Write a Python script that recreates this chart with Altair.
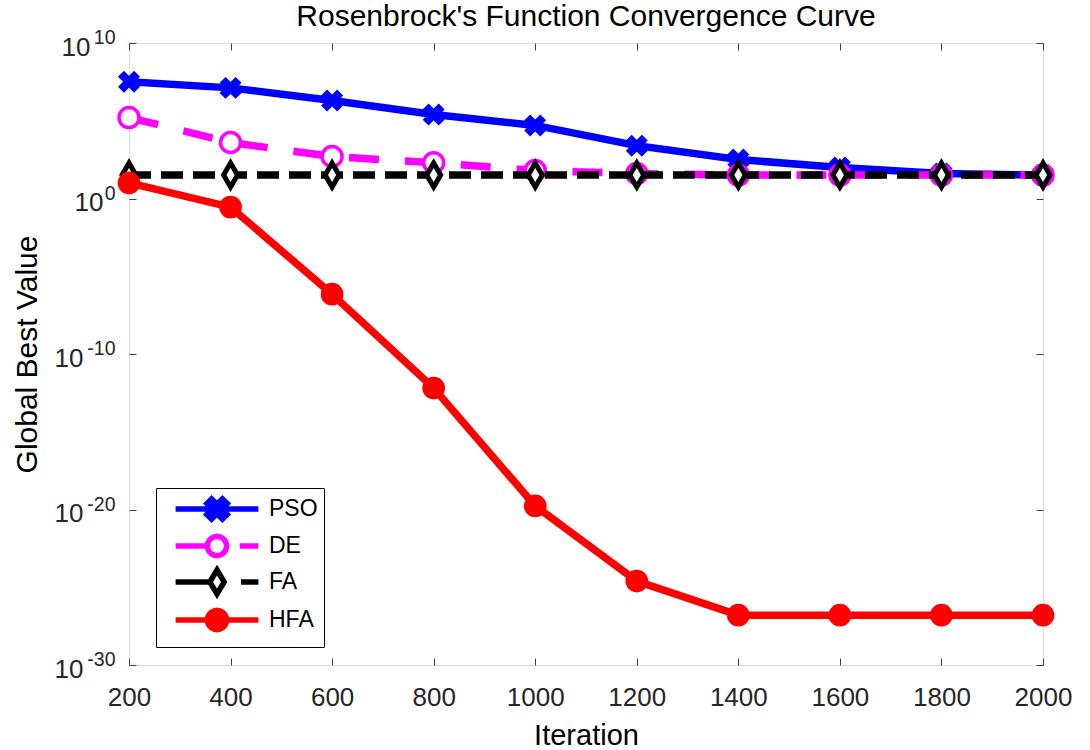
import math
import altair as alt
import pandas as pd

iterations = [200, 400, 600, 800, 1000, 1200, 1400, 1600, 1800, 2000]
series_names = ["PSO", "DE", "FA", "HFA"]
pso = [3.2e7, 1.3e7, 2.0e6, 2.5e5, 5.0e4, 2.5e3, 320, 100, 40, 32]
de = [1.6e5, 4.0e3, 500, 200, 63, 40, 32, 32, 32, 32]
fa = [32, 32, 32, 32, 32, 32, 32, 32, 32, 32]
hfa = [10, 0.28, 7e-7, 6.5e-13, 1.7e-20, 2.5e-25, 1.6e-27, 1.6e-27, 1.6e-27, 1.6e-27]
y_ticks = [1e-30, 1e-20, 1e-10, 1, 1e10]

colors = ["#0000ff", "#ff00ff", "#000000", "#ff0000"]
fills = ["#0000ff", "#ffffff", "#ffffff", "#ff0000"]
dashes = [None, [30, 26], [22, 10], None]

X_PATH = "M-1,-0.55L-0.55,-1L0,-0.45L0.55,-1L1,-0.55L0.45,0L1,0.55L0.55,1L0,0.45L-0.55,1L-1,0.55L-0.45,0Z"
DIAMOND = "M0,-1L0.58,0L0,1L-0.58,0Z"
shapes = [X_PATH, "circle", DIAMOND, "circle"]
sizes = [340, 400, 576, 430]
marker_sw = [2.5, 3.5, 5, 2]


def ring(r):
    pts = []
    for k in range(20):
        a = 2 * math.pi * k / 20
        pts.append(f"{r * math.cos(a):.3f},{r * math.sin(a):.3f}")
    return "M" + "L".join(pts) + "Z"


legend_paths = [
    "M-3.45,0L3.45,0M-0.85,-0.45L-0.45,-0.85L0,-0.4L0.45,-0.85L0.85,-0.45L0.4,0L0.85,0.45L0.45,0.85L0,0.4L-0.45,0.85L-0.85,0.45L-0.4,0Z",
    "M-3.45,0L-0.8,0M1.9,0L3.45,0" + ring(0.8),
    "M-3.45,0L-0.6,0M2.0,0L3.45,0M0,-1L0.6,0L0,1L-0.6,0Z",
    "M-3.45,0L3.45,0" + ring(0.8),
]

rows = []
for name, vals in zip(series_names, [pso, de, fa, hfa]):
    for it, v in zip(iterations, vals):
        rows.append({"iter": it, "value": v, "series": name})
df = pd.DataFrame(rows)

FONT = "Liberation Sans"
xscale = alt.Scale(domain=[200, 2000], nice=False, zero=False)
yscale = alt.Scale(type="log", domain=[1e-30, 1e10], nice=False)

# exponent part of the y labels (superscript)
exp_expr = ("datum.value >= 1e9 ? '10' : datum.value >= 0.5 ? '0' : "
            "datum.value >= 1e-11 ? '-10' : datum.value >= 1e-21 ? '-20' : '-30'")

xaxis = alt.Axis(values=iterations, title="Iteration", offset=-7, tickSize=7, domain=False,
                 grid=False, labelFontSize=26, titleFontSize=29, labelPadding=19, titlePadding=11,
                 labelFont=FONT, titleFont=FONT, titleFontWeight="normal", labelColor="#262626",
                 titleColor="#000000", tickColor="#404040", labelFlush=False, format="d")
yaxis = alt.Axis(values=y_ticks, title="Global Best Value", offset=-7, tickSize=7, domain=False,
                 grid=False, labelFontSize=19.5, titleFontSize=30, labelPadding=14, titlePadding=44,
                 labelFont=FONT, titleFont=FONT, titleFontWeight="normal", labelColor="#262626",
                 titleColor="#000000", tickColor="#404040", labelExpr=exp_expr, labelFlush=False,
                 labelAlign="right", labelBaseline="middle", labelOffset=-5.5)

base = alt.Chart(df)
layers = []
for i, name in enumerate(series_names):
    sub = base.transform_filter(alt.datum.series == name)
    line_kwargs = dict(color=colors[i], strokeWidth=7.5, clip=False)
    if dashes[i] is not None:
        line_kwargs["strokeDash"] = dashes[i]
    layers.append(sub.mark_line(**line_kwargs).encode(
        x=alt.X("iter:Q", scale=xscale, axis=xaxis),
        y=alt.Y("value:Q", scale=yscale, axis=yaxis),
    ))
    layers.append(sub.mark_point(shape=shapes[i], size=sizes[i], stroke=colors[i], fill=fills[i],
                                 filled=False, fillOpacity=1, opacity=1,
                                 strokeWidth=marker_sw[i]).encode(
        x=alt.X("iter:Q", scale=xscale, axis=xaxis),
        y=alt.Y("value:Q", scale=yscale, axis=yaxis),
    ))

leg = alt.Legend(orient="none", legendX=27, legendY=445, title=None, strokeColor="#000000",
                 fillColor="#ffffff", padding=6, labelFontSize=23, labelFont=FONT,
                 labelColor="#000000", symbolSize=576, symbolStrokeWidth=5.5,
                 symbolOffset=40, labelOffset=37, rowPadding=-11)
legend_layer = base.transform_filter("datum.iter < 0").mark_point(filled=False, opacity=1).encode(
    x=alt.X("iter:Q", scale=xscale, axis=xaxis),
    y=alt.Y("value:Q", scale=yscale, axis=yaxis),
    stroke=alt.Stroke("series:N", scale=alt.Scale(domain=series_names, range=colors), legend=leg),
    fill=alt.Fill("series:N", scale=alt.Scale(domain=series_names, range=fills), legend=leg),
    shape=alt.Shape("series:N", scale=alt.Scale(domain=series_names, range=legend_paths), legend=leg),
)
layers.append(legend_layer)

data_layer = alt.layer(*layers)

# top / right inward ticks; the right axis also carries the "10" base of the y labels,
# moved over to the left side of the plot with a negative label padding
base_pad = {"condition": [{"test": "datum.value >= 1e9", "value": -953},
                          {"test": "datum.value >= 0.5", "value": -940}],
            "value": -960}
xaxis2 = alt.Axis(values=iterations, title=None, orient="top", offset=-7, tickSize=7, domain=False,
                  grid=False, labels=False, tickColor="#404040")
yaxis2 = alt.Axis(values=y_ticks, title=None, orient="right", offset=-7, tickSize=7, domain=False,
                  grid=False, labels=True, tickColor="#404040", labelExpr="'10'",
                  labelFontSize=26, labelFont=FONT, labelColor="#262626", labelAlign="right",
                  labelBaseline="middle", labelOffset=4, labelPadding=base_pad,
                  labelFlush=False, labelOverlap=False)
tick_layer = base.transform_filter("datum.iter < 0").mark_point(opacity=0).encode(
    x=alt.X("iter:Q", scale=xscale, axis=xaxis2),
    y=alt.Y("value:Q", scale=yscale, axis=yaxis2),
)

chart = alt.layer(data_layer, tick_layer).resolve_axis(x="independent", y="independent").properties(
    width=914, height=622,
    title=alt.Title("Rosenbrock's Function Convergence Curve", fontSize=30, font=FONT,
                    fontWeight="normal", color="#000000", offset=0, dy=4, anchor="middle"),
    autosize=alt.AutoSizeParams(type="none"),
    padding={"left": 129, "top": 43, "right": 47, "bottom": 85},
).configure_view(stroke="#404040", strokeWidth=1.2).configure(background="white")

chart.save("out.html", embed_options={"renderer": "svg", "actions": False})
